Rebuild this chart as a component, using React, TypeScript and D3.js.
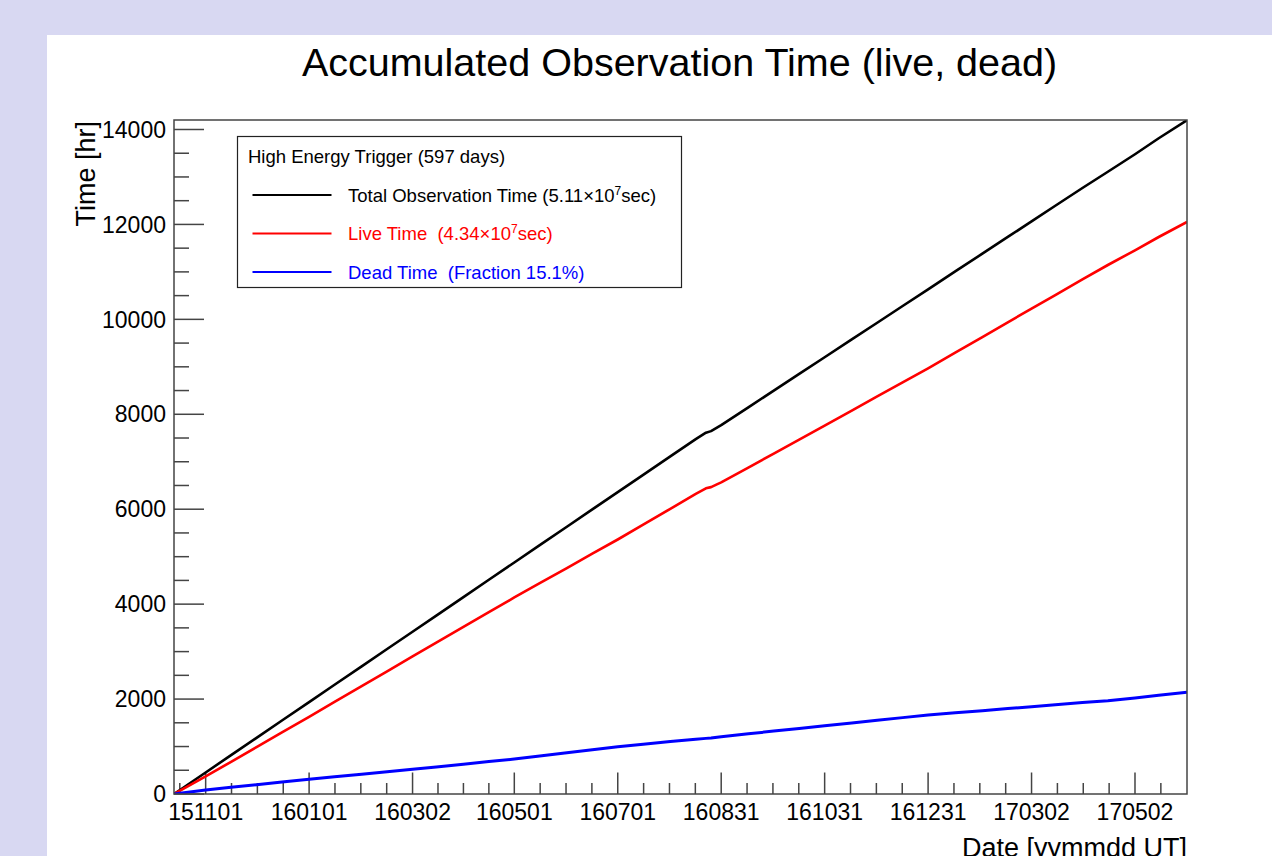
import React from "react";
import * as d3 from "d3";

// observation log (hours, cumulative)
const dates = [
  "2015-10-13T08:00Z", "2015-11-01", "2015-11-16", "2015-12-01", "2015-12-16",
  "2016-01-01", "2016-01-16", "2016-02-01", "2016-02-16",
  "2016-03-02", "2016-03-16", "2016-04-01", "2016-04-16",
  "2016-05-01", "2016-05-16", "2016-06-01", "2016-06-16",
  "2016-07-01", "2016-07-16", "2016-08-01", "2016-08-16",
  "2016-08-22", "2016-08-25",
  "2016-08-31", "2016-09-16", "2016-10-01", "2016-10-16",
  "2016-10-31", "2016-11-16", "2016-12-01", "2016-12-16",
  "2016-12-31", "2017-01-16", "2017-02-01", "2017-02-16",
  "2017-03-02", "2017-03-16", "2017-04-01", "2017-04-16",
  "2017-05-02", "2017-05-16", "2017-06-01T16:00Z",
];
const totalTime = [
  0, 454, 819, 1183, 1548, 1937, 2301, 2690, 3055, 3419, 3759, 4148, 4513,
  4877, 5242, 5630, 5995, 6359, 6724, 7113, 7477, 7612, 7645, 7771, 8146,
  8498, 8850, 9202, 9577, 9929, 10281, 10633, 11009, 11384, 11736, 12064,
  12393, 12768, 13110, 13478, 13815, 14196,
];
const liveTime = [
  0, 370, 679, 987, 1297, 1627, 1939, 2273, 2586, 2899, 3188, 3519, 3830,
  4140, 4441, 4761, 5062, 5362, 5675, 6009, 6322, 6440, 6465, 6564, 6878,
  7173, 7468, 7763, 8079, 8376, 8672, 8969, 9299, 9628, 9937, 10225, 10513,
  10842, 11145, 11455, 11735, 12053,
];
const deadTime = [
  0, 84, 140, 196, 251, 310, 362, 417, 469, 520, 571, 629, 683, 737, 801,
  869, 933, 997, 1049, 1104, 1155, 1172, 1180, 1207, 1268, 1325, 1382, 1439,
  1498, 1553, 1609, 1664, 1710, 1756, 1799, 1839, 1880, 1926, 1965, 2023,
  2080, 2143,
];

const xTickDates = [
  "2015-11-01", "2016-01-01", "2016-03-02", "2016-05-01", "2016-07-01",
  "2016-08-31", "2016-10-31", "2016-12-31", "2017-03-02", "2017-05-02",
];
const xTickLabels = [
  "151101", "160101", "160302", "160501", "160701",
  "160831", "161031", "161231", "170302", "170502",
];
const yTicks = [0, 2000, 4000, 6000, 8000, 10000, 12000, 14000];

const parse = (s) => new Date(s.length === 10 ? s + "T00:00Z" : s);

const W = 1272, H = 856;
const margin = { left: 174, top: 120, right: 1187, bottom: 794 };
const FONT = "'Liberation Sans', Arial, Helvetica, sans-serif";

const App = () => {
  const times = dates.map(parse);
  const x = d3.scaleUtc()
    .domain([times[0], times[times.length - 1]])
    .range([margin.left, margin.right]);
  const y = d3.scaleLinear().domain([0, 14200]).range([margin.bottom, margin.top]);

  const line = d3.line().x((d) => x(d[0])).y((d) => y(d[1]));
  const mk = (vals) => times.map((t, i) => [t, vals[i]]);

  const series = [
    { vals: totalTime, color: "#000000", w: 2.6 },
    { vals: liveTime, color: "#ff0000", w: 2.6 },
    { vals: deadTime, color: "#0000ff", w: 3 },
  ];

  // minor x ticks: 3 between each pair of majors, plus one step outside each end
  const majors = xTickDates.map(parse);
  const minors = [];
  for (let i = 0; i < majors.length - 1; i++) {
    const a = +majors[i], b = +majors[i + 1];
    for (let j = 1; j < 4; j++) minors.push(new Date(a + (j / 4) * (b - a)));
  }
  const step0 = (+majors[1] - +majors[0]) / 4;
  const stepN = (+majors[majors.length - 1] - +majors[majors.length - 2]) / 4;
  for (let j = 1; j < 4; j++) {
    minors.push(new Date(+majors[0] - j * step0));
    minors.push(new Date(+majors[majors.length - 1] + j * stepN));
  }
  const minorX = minors.filter((d) => x(d) > margin.left + 1 && x(d) < margin.right - 1);

  const yMinor = d3.range(0, 14200, 500).filter((v) => v % 2000 !== 0);

  const legendRows = [
    { color: "#000000", label: "Total Observation Time (5.11\u00d710", sup: "7", tail: "sec)" },
    { color: "#ff0000", label: "Live Time  (4.34\u00d710", sup: "7", tail: "sec)" },
    { color: "#0000ff", label: "Dead Time  (Fraction 15.1%)" },
  ];
  const rowY = [195, 233.5, 272];

  return (
    <svg width={W} height={H} style={{ position: "absolute", left: 0, top: 0 }} fontFamily={FONT}>
      <rect x={0} y={0} width={W} height={H} fill="#d8d8f2" />
      <rect x={47} y={35} width={W - 47} height={H - 35} fill="#ffffff" />

      <text x={679.5} y={76} fontSize={39.5} textAnchor="middle" fill="#000">
        Accumulated Observation Time (live, dead)
      </text>

      <defs>
        <clipPath id="frame">
          <rect x={margin.left} y={margin.top} width={margin.right - margin.left} height={margin.bottom - margin.top} />
        </clipPath>
      </defs>

      {/* y axis ticks */}
      {yTicks.map((v) => (
        <g key={"y" + v}>
          <line x1={margin.left} x2={margin.left + 30} y1={y(v)} y2={y(v)} stroke="#444" strokeWidth={1.5} />
          <text x={166} y={y(v) + 8.2} fontSize={23} textAnchor="end" fill="#000">{v}</text>
        </g>
      ))}
      {yMinor.map((v) => (
        <line key={"ym" + v} x1={margin.left} x2={margin.left + 15} y1={y(v)} y2={y(v)} stroke="#444" strokeWidth={1.5} />
      ))}

      {/* x axis ticks */}
      {majors.map((d, i) => (
        <g key={"x" + i}>
          <line x1={x(d)} x2={x(d)} y1={margin.bottom} y2={margin.bottom - 21.5} stroke="#444" strokeWidth={1.5} />
          <text x={x(d)} y={820} fontSize={23} textAnchor="middle" fill="#000">{xTickLabels[i]}</text>
        </g>
      ))}
      {minorX.map((d, i) => (
        <line key={"xm" + i} x1={x(d)} x2={x(d)} y1={margin.bottom} y2={margin.bottom - 11} stroke="#444" strokeWidth={1.5} />
      ))}

      <g clipPath="url(#frame)">
        {series.map((s, i) => (
          <path key={i} d={line(mk(s.vals))} fill="none" stroke={s.color} strokeWidth={s.w} strokeLinejoin="round" />
        ))}
      </g>

      <rect x={margin.left} y={margin.top} width={margin.right - margin.left} height={margin.bottom - margin.top}
        fill="none" stroke="#444" strokeWidth={1.5} />

      {/* axis titles */}
      <text transform="translate(95,121) rotate(-90)" fontSize={27} textAnchor="end" fill="#000">Time [hr]</text>
      <text x={1187} y={857} fontSize={27} textAnchor="end" fill="#000">Date [yymmdd UT]</text>

      {/* legend */}
      <rect x={237.5} y={136.5} width={444} height={151} fill="#fff" stroke="#222" strokeWidth={1.2} />
      <text x={248} y={163} fontSize={18.5} fill="#000">High Energy Trigger (597 days)</text>
      {legendRows.map((r, i) => (
        <g key={"lg" + i}>
          <line x1={252.5} x2={331.5} y1={rowY[i]} y2={rowY[i]} stroke={r.color} strokeWidth={2.2} />
          <text x={348} y={rowY[i] + 6.5} fontSize={18.5} fill={r.color} style={{ whiteSpace: "pre" }}>
            {r.label}
            {r.sup ? <tspan dy={-7} fontSize={12}>{r.sup}</tspan> : null}
            {r.tail ? <tspan dy={7}>{r.tail}</tspan> : null}
          </text>
        </g>
      ))}
    </svg>
  );
};

export default App;
